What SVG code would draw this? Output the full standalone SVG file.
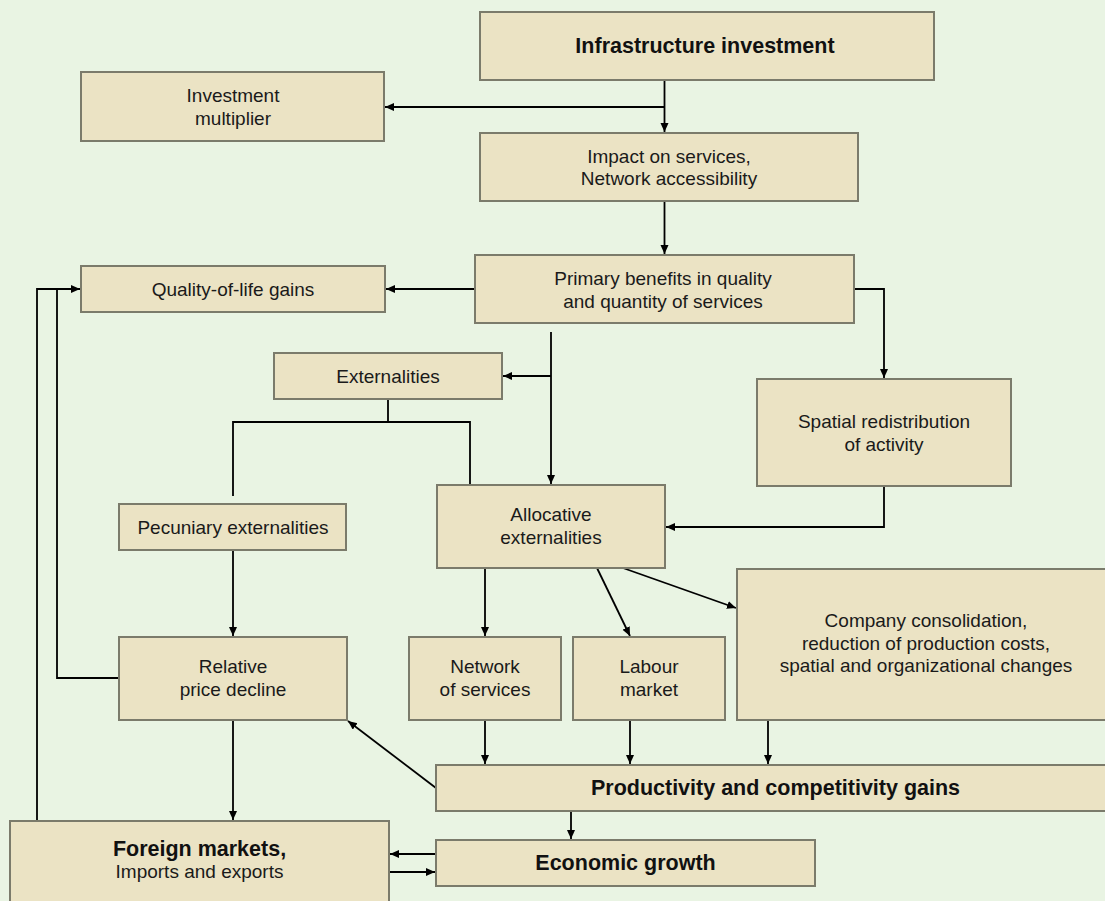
<svg xmlns="http://www.w3.org/2000/svg" width="1105" height="901" viewBox="0 0 1105 901">
<defs>
<marker id="ah" markerUnits="userSpaceOnUse" markerWidth="10" markerHeight="9" refX="9" refY="4" orient="auto">
<path d="M0,0 L9,4 L0,8 z" fill="#000"/>
</marker>
<style>
.box{fill:#ebe3c4;stroke:#7b7b6b;stroke-width:2}
.t{font-family:"Liberation Sans",Arial,sans-serif;font-size:19px;fill:#1a1a1a;text-anchor:middle}
.b{font-family:"Liberation Sans",Arial,sans-serif;font-size:21.5px;font-weight:bold;fill:#111;text-anchor:middle}
.c{fill:none;stroke:#000;stroke-width:1.8}
.a{marker-end:url(#ah)}
</style>
</defs>
<rect width="1105" height="901" fill="#e9f4e3"/>
<g id="connectors">
<path class="c a" d="M664.5,80 V132"/>
<path class="c a" d="M664.5,107 H385"/>
<path class="c a" d="M664.5,201 V254"/>
<path class="c a" d="M475,289 H386"/>
<path class="c a" d="M854,289 H884 V378"/>
<path class="c a" d="M551,332 V484"/>
<path class="c a" d="M551,376 H503"/>
<path class="c" d="M388,399 V422 M233,496 V422 H470 V485"/>
<path class="c a" d="M884,486 V527 H666"/>
<path class="c a" d="M485,568 V636"/>
<path class="c a" d="M597,568 L630,636"/>
<path class="c a" d="M623,568 L736,608"/>
<path class="c a" d="M233,550 V636"/>
<path class="c a" d="M485,720 V764"/>
<path class="c a" d="M630,720 V764"/>
<path class="c a" d="M768,720 V764"/>
<path class="c a" d="M436,788 L348,721"/>
<path class="c a" d="M233,720 V820"/>
<path class="c a" d="M571,811 V839"/>
<path class="c a" d="M436,854 H390"/>
<path class="c a" d="M389,872 H435"/>
<path class="c a" d="M37,821 V289 H80"/>
<path class="c" d="M119,678 H57 V289"/>
</g>
<g id="infrastructure">
<rect class="box" x="480" y="12" width="454" height="68"/>
<text class="b" x="705" y="53">Infrastructure investment</text>
</g>
<g id="multiplier">
<rect class="box" x="81" y="72" width="303" height="69"/>
<text class="t" x="233" y="102">Investment</text>
<text class="t" x="233" y="124.5">multiplier</text>
</g>
<g id="impact">
<rect class="box" x="480" y="133" width="378" height="68"/>
<text class="t" x="669" y="162.5">Impact on services,</text>
<text class="t" x="669" y="185">Network accessibility</text>
</g>
<g id="primary">
<rect class="box" x="475" y="255" width="379" height="68"/>
<text class="t" x="663" y="285">Primary benefits in quality</text>
<text class="t" x="663" y="307.5">and quantity of services</text>
</g>
<g id="quality">
<rect class="box" x="81" y="266" width="304" height="46"/>
<text class="t" x="233" y="296">Quality-of-life gains</text>
</g>
<g id="externalities">
<rect class="box" x="274" y="353" width="228" height="46"/>
<text class="t" x="388" y="383">Externalities</text>
</g>
<g id="spatial">
<rect class="box" x="757" y="379" width="254" height="107"/>
<text class="t" x="884" y="428">Spatial redistribution</text>
<text class="t" x="884" y="450.5">of activity</text>
</g>
<g id="pecuniary">
<rect class="box" x="119" y="504" width="227" height="46"/>
<text class="t" x="233" y="533.5">Pecuniary externalities</text>
</g>
<g id="allocative">
<rect class="box" x="437" y="485" width="228" height="83"/>
<text class="t" x="551" y="521">Allocative</text>
<text class="t" x="551" y="543.5">externalities</text>
</g>
<g id="relative">
<rect class="box" x="119" y="637" width="228" height="83"/>
<text class="t" x="233" y="673">Relative</text>
<text class="t" x="233" y="695.5">price decline</text>
</g>
<g id="network">
<rect class="box" x="409" y="637" width="152" height="83"/>
<text class="t" x="485" y="673">Network</text>
<text class="t" x="485" y="695.5">of services</text>
</g>
<g id="labour">
<rect class="box" x="573" y="637" width="152" height="83"/>
<text class="t" x="649" y="673">Labour</text>
<text class="t" x="649" y="695.5">market</text>
</g>
<g id="company">
<rect class="box" x="737" y="569" width="378" height="151"/>
<text class="t" x="926" y="627">Company consolidation,</text>
<text class="t" x="926" y="649.5">reduction of production costs,</text>
<text class="t" x="926" y="672">spatial and organizational changes</text>
</g>
<g id="productivity">
<rect class="box" x="436" y="765" width="679" height="46"/>
<text class="b" x="775.5" y="795">Productivity and competitivity gains</text>
</g>
<g id="growth">
<rect class="box" x="436" y="840" width="379" height="46"/>
<text class="b" x="625.5" y="870">Economic growth</text>
</g>
<g id="foreign">
<rect class="box" x="10" y="821" width="379" height="100"/>
<text class="b" x="199.5" y="856">Foreign markets,</text>
<text class="t" x="199.5" y="878">Imports and exports</text>
</g>
</svg>
